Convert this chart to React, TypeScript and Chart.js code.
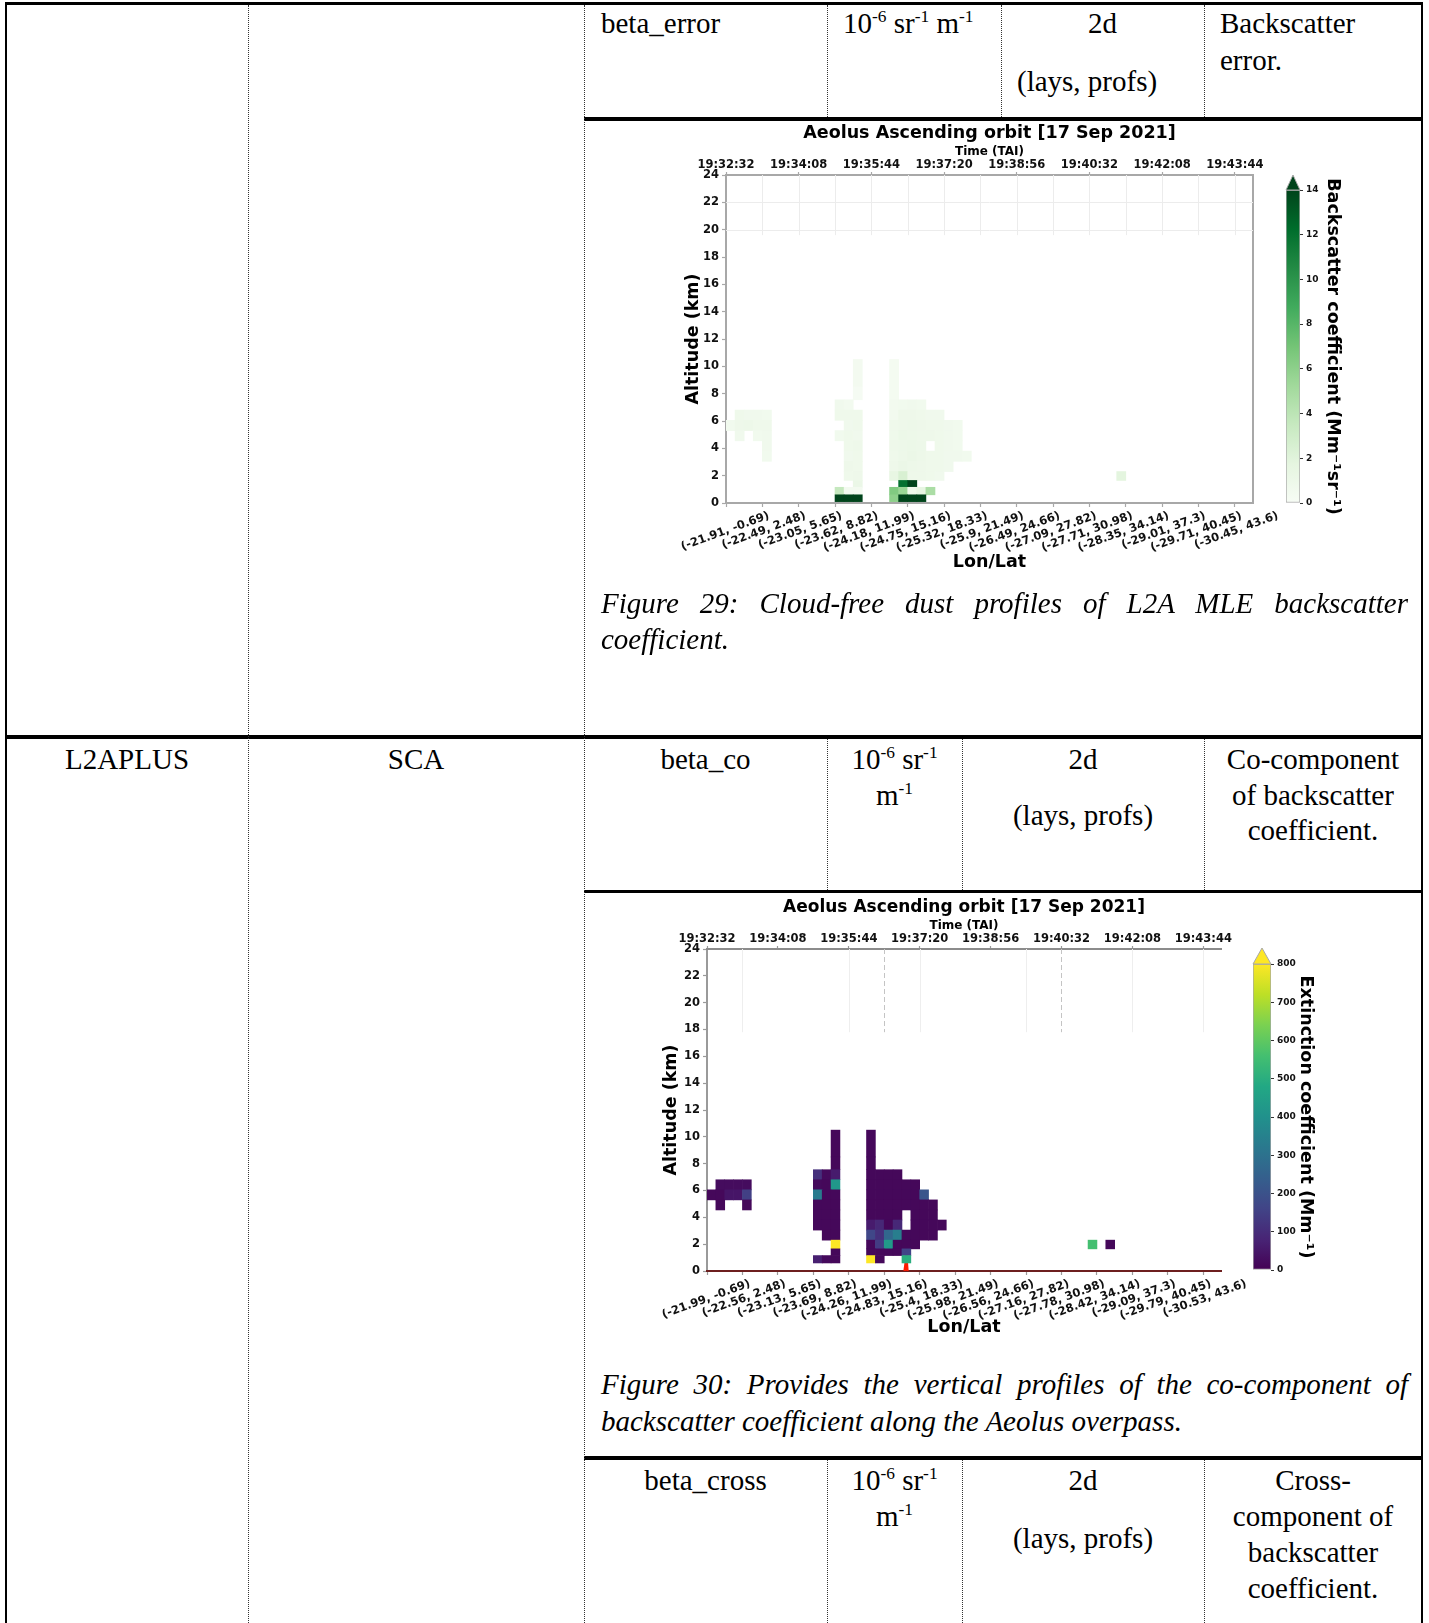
import { useEffect, useRef } from 'react';
import { Chart, registerables } from 'chart.js';

Chart.register(...registerables);

type Cell = number | null;
const _ = null;

// ---------------------------------------------------------------------------
// Shared profile / layer geometry of the Aeolus overpass
// ---------------------------------------------------------------------------
const LAYER_EDGES_KM = [0.1, 0.6, 1.15, 1.65, 2.3, 3.05, 3.8, 4.55, 5.3, 6.05, 6.8, 7.55, 8.5, 10.5];
const PROFILE_COUNT = 58;
const ALTITUDE_MAX_KM = 24;

const TIME_TICK_PROFILES = [0, 8, 16, 24, 32, 40, 48, 56];
const TIME_TICK_LABELS = ['19:32:32', '19:34:08', '19:35:44', '19:37:20', '19:38:56', '19:40:32', '19:42:08', '19:43:44'];

const LONLAT_TICK_PROFILES = [0, 4, 8, 12, 16, 20, 24, 28, 32, 36, 40, 44, 48, 52, 56];
const L2A_LONLAT_LABELS = [
  '(-21.91, -0.69)', '(-22.49, 2.48)', '(-23.05, 5.65)', '(-23.62, 8.82)', '(-24.18, 11.99)',
  '(-24.75, 15.16)', '(-25.32, 18.33)', '(-25.9, 21.49)', '(-26.49, 24.66)', '(-27.09, 27.82)',
  '(-27.71, 30.98)', '(-28.35, 34.14)', '(-29.01, 37.3)', '(-29.71, 40.45)', '(-30.45, 43.6)',
];
const L2APLUS_LONLAT_LABELS = [
  '(-21.99, -0.69)', '(-22.56, 2.48)', '(-23.13, 5.65)', '(-23.69, 8.82)', '(-24.26, 11.99)',
  '(-24.83, 15.16)', '(-25.4, 18.33)', '(-25.98, 21.49)', '(-26.56, 24.66)', '(-27.16, 27.82)',
  '(-27.78, 30.98)', '(-28.42, 34.14)', '(-29.09, 37.3)', '(-29.79, 40.45)', '(-30.53, 43.6)',
];

// ---------------------------------------------------------------------------
// L2A MLE backscatter (Mm-1 sr-1); one column per profile, bottom layer first
// ---------------------------------------------------------------------------
const BETA_PROFILES = [0, 1, 2, 3, 4, 12, 13, 14, 18, 19, 20, 21, 22, 23, 24, 25, 26, 43];
const BETA_COLUMNS: Cell[][] = [
  [_, _, _, _, _, _, _, _, 0.6, _, _, _, _],
  [_, _, _, _, _, _, _, 0.7, 0.9, 0.8, _, _, _],
  [_, _, _, _, _, _, _, _, 1.0, 0.7, _, _, _],
  [_, _, _, _, _, _, _, 0.6, 0.8, 0.7, _, _, _],
  [_, _, _, _, _, 0.6, 0.7, 0.7, 0.8, 0.6, _, _, _],
  [15, 3.6, _, _, _, _, _, 0.6, _, 0.8, 0.7, _, _],
  [15, 0.4, _, 0.8, 0.9, 0.7, 0.8, 0.8, 0.7, 0.8, 0.5, _, _],
  [15, 0.4, 1.2, 0.9, 0.8, 0.8, 0.9, 0.7, 0.8, 0.8, _, 0.2, 0.4],
  [6, 6.5, _, 1.5, 0.9, 0.8, 0.9, 0.8, 0.8, 0.5, 0.5, 0.3, 0.3],
  [15, 5.5, 12, 2.5, 1.2, 1.0, 1.0, 1.1, 0.9, 0.9, 0.6, _, _],
  [15, 0.8, 15, 0.9, 1.0, 1.2, 1.1, 1.0, 1.0, 0.9, 0.7, _, _],
  [15, 1.5, _, 0.9, 0.9, 1.0, 1.0, 0.9, 0.9, 0.8, 0.6, _, _],
  [_, 4.8, _, 0.8, 0.8, 0.8, _, 0.9, 0.8, 0.7, _, _, _],
  [_, _, _, 0.7, 0.8, 0.8, 0.8, 0.8, 0.8, 0.7, _, _, _],
  [_, _, _, _, 0.7, 0.7, 0.7, 0.7, 0.7, _, _, _, _],
  [_, _, _, _, _, 0.7, 0.6, 0.6, 0.6, _, _, _, _],
  [_, _, _, _, _, 0.6, _, _, _, _, _, _, _],
  [_, _, _, 1.8, _, _, _, _, _, _, _, _, _],
];
const BETA_RANGE = [0, 14];
const BETA_STEP = 2;

// ---------------------------------------------------------------------------
// L2A+ SCA extinction (Mm-1); one column per profile, bottom layer first
// ---------------------------------------------------------------------------
const EXT_PROFILES = [0, 1, 2, 3, 4, 12, 13, 14, 18, 19, 20, 21, 22, 23, 24, 25, 26, 43, 45];
const EXT_COLUMNS: Cell[][] = [
  [_, _, _, _, _, _, _, _, 15, _, _, _, _],
  [_, _, _, _, _, _, _, 15, 15, 25, _, _, _],
  [_, _, _, _, _, _, _, _, 45, 25, _, _, _],
  [_, _, _, _, _, _, _, _, 45, 25, _, _, _],
  [_, _, _, _, _, _, _, 15, 150, 25, _, _, _],
  [_, 70, _, _, _, 15, 15, 15, 330, 20, 110, _, _],
  [_, 20, _, _, 15, 15, 15, 15, 15, 15, 20, _, _],
  [_, 15, 15, 800, 15, 15, 15, 15, 15, 420, 60, 15, 15],
  [_, 820, 15, 15, 170, 60, 15, 15, 15, 15, 15, 15, 15],
  [_, 15, 15, 140, 110, 90, 15, 15, 15, 15, 15, _, _],
  [_, _, 15, 430, 270, 15, 15, 15, 15, 15, 15, _, _],
  [_, _, 15, 15, 340, 90, 15, 15, 15, 15, 15, _, _],
  [_, 500, 160, 15, 15, _, _, 15, 15, 15, _, _, _],
  [_, _, _, 15, 15, 15, 15, 15, 15, 15, _, _, _],
  [_, _, _, _, 15, 15, 15, 15, 210, _, _, _, _],
  [_, _, _, _, 15, 15, 15, 15, _, _, _, _, _],
  [_, _, _, _, _, 15, _, _, _, _, _, _, _],
  [_, _, _, 560, _, _, _, _, _, _, _, _, _],
  [_, _, _, 15, _, _, _, _, _, _, _, _, _],
];
const EXT_RANGE = [0, 800];
const EXT_STEP = 100;
// surface marker (profile, km)
const GROUND_MARK = [
  { x: 22.3, y: 0 },
  { x: 22.5, y: 1.0 },
  { x: 22.62, y: 0 },
];

// ---------------------------------------------------------------------------
// Colour maps
// ---------------------------------------------------------------------------
const GREENS = ['#f7fcf5', '#e5f5e0', '#c7e9c0', '#a1d99b', '#74c476', '#41ab5d', '#238b45', '#006d2c', '#00441b'];
const VIRIDIS = ['#440154', '#482475', '#414487', '#355f8d', '#2a788e', '#21918c', '#22a884', '#44bf70', '#7ad151', '#bddf26', '#fde725'];

function hexToRgb(h: string) {
  const n = parseInt(h.slice(1), 16);
  return [(n >> 16) & 255, (n >> 8) & 255, n & 255];
}

function colorAt(palette: string[], t: number) {
  const c = Math.max(0, Math.min(1, t)) * (palette.length - 1);
  const i = Math.min(Math.floor(c), palette.length - 2);
  const f = c - i;
  const a = hexToRgb(palette[i]);
  const b = hexToRgb(palette[i + 1]);
  const m = a.map((v, k) => Math.round(v + (b[k] - v) * f));
  return `rgb(${m[0]}, ${m[1]}, ${m[2]})`;
}

const FONT = 'DejaVu Sans';
const tickFont = { family: FONT, size: 11.5, weight: 'bold' as const };
const labelFont = (size: number) => ({ family: FONT, size, weight: 'bold' as const });

// ---------------------------------------------------------------------------
// Chart.js plugins
// ---------------------------------------------------------------------------
const upperGridPlugin = {
  id: 'upperGrid',
  beforeDatasetsDraw(chart: any, _args: any, o: any) {
    const xs = chart.scales.xb;
    const ys = chart.scales.y;
    if (!xs || !ys || !o) return;
    const { ctx, chartArea } = chart;
    const yTop = ys.getPixelForValue(ALTITUDE_MAX_KM);
    const yFloor = ys.getPixelForValue(o.floor);
    ctx.save();
    ctx.lineWidth = 1;
    ctx.strokeStyle = o.color;
    ctx.beginPath();
    for (const v of o.vertical) {
      const px = Math.round(xs.getPixelForValue(v)) + 0.5;
      ctx.moveTo(px, yTop);
      ctx.lineTo(px, yFloor);
    }
    for (const h of o.horizontal) {
      const py = Math.round(ys.getPixelForValue(h)) + 0.5;
      ctx.moveTo(chartArea.left, py);
      ctx.lineTo(chartArea.right, py);
    }
    ctx.stroke();
    if (o.dashed && o.dashed.length) {
      ctx.setLineDash([5, 3]);
      ctx.strokeStyle = o.dashColor;
      ctx.beginPath();
      for (const v of o.dashed) {
        const px = Math.round(xs.getPixelForValue(v)) + 0.5;
        ctx.moveTo(px, yTop);
        ctx.lineTo(px, ys.getPixelForValue(o.dashFloor));
      }
      ctx.stroke();
    }
    ctx.restore();
  },
};

const colorbarArrowPlugin = {
  id: 'colorbarArrow',
  afterDatasetsDraw(chart: any, _args: any, o: any) {
    const ys = chart.scales.y;
    const { ctx, chartArea: a } = chart;
    const yTop = ys.getPixelForValue(ys.max);
    ctx.save();
    ctx.beginPath();
    ctx.moveTo(a.left, yTop);
    ctx.lineTo(a.right, yTop);
    ctx.lineTo((a.left + a.right) / 2, yTop - o.height);
    ctx.closePath();
    ctx.fillStyle = o.color;
    ctx.fill();
    ctx.strokeStyle = o.edge;
    ctx.lineWidth = 1;
    ctx.stroke();
    ctx.restore();
  },
};

// ---------------------------------------------------------------------------
// Config builders
// ---------------------------------------------------------------------------
function layerDatasets(profiles: number[], columns: Cell[][], palette: string[], vmax: number) {
  return LAYER_EDGES_KM.slice(0, -1).map((lo, li) => {
    const hi = LAYER_EDGES_KM[li + 1];
    const data: any[] = new Array(PROFILE_COUNT).fill(null);
    const colors: string[] = new Array(PROFILE_COUNT).fill('rgba(0,0,0,0)');
    profiles.forEach((p, k) => {
      const v = columns[k][li];
      if (v !== null && v !== undefined) {
        data[p] = [lo, hi];
        colors[p] = colorAt(palette, v / vmax);
      }
    });
    return {
      type: 'bar',
      xAxisID: 'x',
      yAxisID: 'y',
      data,
      backgroundColor: colors,
      borderWidth: 0,
      barPercentage: 1,
      categoryPercentage: 1,
      grouped: false,
    };
  });
}

function heatmapConfig(s: any) {
  const datasets: any[] = layerDatasets(s.profiles, s.columns, s.palette, s.vmax);
  if (s.groundMark) {
    datasets.push({
      type: 'line',
      xAxisID: 'xb',
      yAxisID: 'y',
      data: s.groundMark,
      borderColor: '#ff1a00',
      borderWidth: 2.5,
      pointRadius: 0,
      fill: false,
      tension: 0,
    });
  }
  return {
    type: 'bar',
    data: {
      labels: Array.from({ length: PROFILE_COUNT }, (_v, i) => String(i)),
      datasets,
    },
    plugins: [upperGridPlugin],
    options: {
      responsive: false,
      animation: false,
      devicePixelRatio: 1,
      events: [],
      layout: { padding: s.padding, autoPadding: false },
      plugins: {
        legend: { display: false },
        tooltip: { enabled: false },
        title: {
          display: true,
          text: 'Aeolus Ascending orbit [17 Sep 2021]',
          fullSize: false,
          color: '#000',
          font: labelFont(s.titleSize),
          padding: { top: s.titlePadTop, bottom: 0 },
        },
        upperGrid: s.grid,
      },
      scales: {
        x: { type: 'category', display: false, offset: true, grid: { display: false } },
        y: {
          type: 'linear',
          position: 'left',
          min: 0,
          max: ALTITUDE_MAX_KM,
          afterFit: (sc: any) => {
            sc.width = s.yWidth;
            sc.paddingTop = 0;
            sc.paddingBottom = 0;
          },
          ticks: { stepSize: 2, color: '#111', font: tickFont, padding: 3 },
          grid: { drawOnChartArea: false, tickLength: 4, color: s.spine, tickWidth: 1.2 },
          border: { color: s.spine, width: 2 },
          title: { display: true, text: 'Altitude (km)', color: '#000', font: labelFont(17.5), padding: { top: s.yTitlePad, bottom: 0 } },
        },
        yr: {
          type: 'linear',
          position: 'right',
          min: 0,
          max: ALTITUDE_MAX_KM,
          display: s.rightSpine,
          afterFit: (sc: any) => {
            sc.width = 0;
          },
          ticks: { display: false },
          grid: { drawOnChartArea: false, drawTicks: false },
          border: { color: s.spine, width: 2 },
        },
        xb: {
          type: 'linear',
          position: 'bottom',
          offset: false,
          min: 0,
          max: PROFILE_COUNT,
          afterBuildTicks: (sc: any) => {
            sc.ticks = LONLAT_TICK_PROFILES.map((v) => ({ value: v }));
          },
          afterFit: (sc: any) => {
            sc.height = s.xbHeight;
            sc.paddingLeft = 0;
            sc.paddingRight = 0;
          },
          ticks: {
            autoSkip: false,
            minRotation: 20,
            maxRotation: 20,
            labelOffset: 43,
            padding: 2,
            color: '#111',
            font: tickFont,
            callback: (_v: any, i: number) => s.lonlat[i],
          },
          grid: { offset: false, drawOnChartArea: false, tickLength: 4, color: s.spine, tickWidth: 1.2 },
          border: { color: s.bottomSpine, width: 2 },
          title: { display: true, text: 'Lon/Lat', color: '#000', font: labelFont(17.5), padding: { top: 0, bottom: 2.5 } },
        },
        xt: {
          type: 'linear',
          position: 'top',
          offset: false,
          min: 0,
          max: PROFILE_COUNT,
          afterBuildTicks: (sc: any) => {
            sc.ticks = TIME_TICK_PROFILES.map((v) => ({ value: v }));
          },
          afterFit: (sc: any) => {
            sc.height = s.xtHeight;
            sc.paddingLeft = 0;
            sc.paddingRight = 0;
          },
          ticks: {
            autoSkip: false,
            maxRotation: 0,
            minRotation: 0,
            padding: 0,
            color: '#111',
            font: tickFont,
            callback: (_v: any, i: number) => TIME_TICK_LABELS[i],
          },
          grid: { offset: false, drawOnChartArea: false, tickLength: 3, color: s.spine, tickWidth: 1.2 },
          border: { color: s.topSpine, width: 2 },
          title: { display: true, text: 'Time (TAI)', color: '#000', font: labelFont(12), padding: { top: 1.2, bottom: 0 } },
        },
      },
    },
  };
}

function colorbarConfig(s: any) {
  const palette: string[] = s.palette;
  return {
    type: 'bar',
    data: {
      labels: [''],
      datasets: [
        {
          data: [[s.range[0], s.range[1]]],
          backgroundColor: (c: any) => {
            const a = c.chart.chartArea;
            if (!a) return palette[0];
            const g = c.chart.ctx.createLinearGradient(0, a.bottom, 0, a.top);
            palette.forEach((col, i) => g.addColorStop(i / (palette.length - 1), col));
            return g;
          },
          borderColor: '#a8a8a8',
          borderWidth: 1,
          borderSkipped: false,
          barPercentage: 1,
          categoryPercentage: 1,
        },
      ],
    },
    plugins: [colorbarArrowPlugin],
    options: {
      responsive: false,
      animation: false,
      devicePixelRatio: 1,
      events: [],
      layout: { padding: s.padding, autoPadding: false },
      plugins: {
        legend: { display: false },
        tooltip: { enabled: false },
        colorbarArrow: { color: palette[palette.length - 1], edge: '#a8a8a8', height: s.arrow },
      },
      scales: {
        x: { type: 'category', display: false, offset: true, grid: { display: false } },
        y: {
          type: 'linear',
          position: 'right',
          min: s.range[0],
          max: s.range[1],
          afterFit: (sc: any) => {
            sc.width = s.yWidth;
          },
          ticks: { stepSize: s.step, color: '#111', font: { family: FONT, size: 9, weight: 'bold' }, padding: 3 },
          grid: { drawOnChartArea: false, tickLength: 3, color: '#333' },
          border: { display: false },
          title: { display: true, text: s.label, color: '#000', font: labelFont(17.5), padding: { top: 0, bottom: 0 } },
        },
      },
    },
  };
}

// ---------------------------------------------------------------------------
// Components
// ---------------------------------------------------------------------------
function ChartBox({ left, top, width, height, make }: any) {
  const ref = useRef<HTMLCanvasElement>(null);
  useEffect(() => {
    const chart = new Chart(ref.current as HTMLCanvasElement, make());
    return () => chart.destroy();
  }, []);
  return (
    <canvas
      ref={ref}
      width={width}
      height={height}
      style={{ position: 'absolute', left, top, width, height, display: 'block' }}
    />
  );
}

const SERIF = '"Liberation Serif", "Times New Roman", serif';
const LINE_H = 36;

function Txt({ x, w, cy, align = 'left', italic = false, justify = false, children }: any) {
  return (
    <div
      style={{
        position: 'absolute',
        left: x,
        width: w,
        top: cy - LINE_H / 2,
        height: LINE_H,
        lineHeight: `${LINE_H}px`,
        fontSize: 29,
        fontFamily: SERIF,
        fontStyle: italic ? 'italic' : 'normal',
        textAlign: justify ? 'justify' : align,
        textAlignLast: justify ? 'justify' : undefined,
        whiteSpace: justify ? 'normal' : 'nowrap',
        color: '#000',
      } as any}
    >
      {children}
    </div>
  );
}

function Sup({ children }: any) {
  return <sup style={{ fontSize: '0.6em', verticalAlign: '0.62em', lineHeight: 0 }}>{children}</sup>;
}

function HLine({ x1, x2, y, t }: any) {
  return <div style={{ position: 'absolute', left: x1, top: y - t / 2, width: x2 - x1, height: t, background: '#000' }} />;
}

function VLine({ x, y1, y2, solid = false }: any) {
  return (
    <div
      style={{
        position: 'absolute',
        left: x,
        top: y1,
        width: 0,
        height: y2 - y1,
        borderLeft: solid ? '2px solid #000' : '1px dotted #333',
      }}
    />
  );
}

const UNIT = (
  <>
    10<Sup>-6</Sup> sr<Sup>-1</Sup>
  </>
);

export default function App() {
  return (
    <div style={{ position: 'absolute', left: 0, top: 0, width: 1429, height: 1623, background: '#fff', overflow: 'hidden' }}>
      {/* table rules */}
      <HLine x1={5} x2={1423} y={3.5} t={3} />
      <HLine x1={584} x2={1423} y={119} t={3.5} />
      <HLine x1={5} x2={1423} y={736.5} t={4} />
      <HLine x1={584} x2={1423} y={891.5} t={3.5} />
      <HLine x1={584} x2={1423} y={1458} t={3.5} />
      <VLine x={5} y1={2} y2={1623} solid />
      <VLine x={1421} y1={2} y2={1623} solid />
      <VLine x={248} y1={5} y2={1623} />
      <VLine x={584} y1={5} y2={1623} />
      <VLine x={827} y1={5} y2={117} />
      <VLine x={1001} y1={5} y2={117} />
      <VLine x={1204} y1={5} y2={117} />
      <VLine x={827} y1={739} y2={890} />
      <VLine x={962} y1={739} y2={890} />
      <VLine x={1204} y1={739} y2={890} />
      <VLine x={827} y1={1460} y2={1623} />
      <VLine x={962} y1={1460} y2={1623} />
      <VLine x={1204} y1={1460} y2={1623} />

      {/* beta_error row */}
      <Txt x={601} w={220} cy={23}>beta_error</Txt>
      <Txt x={843} w={160} cy={23}>
        {UNIT} m<Sup>-1</Sup>
      </Txt>
      <Txt x={1001} w={203} cy={23} align="center">2d</Txt>
      <Txt x={1017} w={187} cy={81}>(lays, profs)</Txt>
      <Txt x={1220} w={200} cy={23}>Backscatter</Txt>
      <Txt x={1220} w={200} cy={60}>error.</Txt>

      {/* Figure 29 */}
      <ChartBox
        left={616}
        top={118}
        width={760}
        height={470}
        make={() =>
          heatmapConfig({
            profiles: BETA_PROFILES,
            columns: BETA_COLUMNS,
            palette: GREENS,
            vmax: BETA_RANGE[1],
            lonlat: L2A_LONLAT_LABELS,
            padding: { left: 34, right: 123, top: 0, bottom: 13 },
            titleSize: 17.5,
            titlePadTop: 4.5,
            xtHeight: 31.5,
            yWidth: 76,
            yTitlePad: 33,
            xbHeight: 72,
            spine: '#a8a8a8',
            topSpine: '#a8a8a8',
            bottomSpine: '#a8a8a8',
            rightSpine: true,
            grid: { vertical: LONLAT_TICK_PROFILES.slice(1), horizontal: [20, 22], floor: 19.6, color: '#ececec', dashed: [] },
          })
        }
      />
      <ChartBox
        left={1266}
        top={160}
        width={100}
        height={380}
        make={() =>
          colorbarConfig({
            palette: GREENS,
            range: BETA_RANGE,
            step: BETA_STEP,
            label: 'Backscatter coefficient (Mm\u207B\u00B9sr\u207B\u00B9)',
            padding: { left: 20, top: 30, right: 22.5, bottom: 37 },
            yWidth: 43.5,
            arrow: 15,
          })
        }
      />
      <Txt x={601} w={807} cy={603} italic justify>
        Figure 29: Cloud-free dust profiles of L2A MLE backscatter
      </Txt>
      <Txt x={601} w={807} cy={638.5} italic>
        coefficient.
      </Txt>

      {/* L2APLUS / SCA / beta_co row */}
      <Txt x={6} w={242} cy={758.5} align="center">L2APLUS</Txt>
      <Txt x={248} w={336} cy={758.5} align="center">SCA</Txt>
      <Txt x={584} w={243} cy={758.5} align="center">beta_co</Txt>
      <Txt x={827} w={135} cy={758.5} align="center">{UNIT}</Txt>
      <Txt x={827} w={135} cy={794.7} align="center">
        m<Sup>-1</Sup>
      </Txt>
      <Txt x={962} w={242} cy={758.5} align="center">2d</Txt>
      <Txt x={962} w={242} cy={815.4} align="center">(lays, profs)</Txt>
      <Txt x={1204} w={218} cy={758.5} align="center">Co-component</Txt>
      <Txt x={1204} w={218} cy={794.7} align="center">of backscatter</Txt>
      <Txt x={1204} w={218} cy={830} align="center">coefficient.</Txt>

      {/* Figure 30 */}
      <ChartBox
        left={597}
        top={890}
        width={733}
        height={470}
        make={() =>
          heatmapConfig({
            profiles: EXT_PROFILES,
            columns: EXT_COLUMNS,
            palette: VIRIDIS,
            vmax: EXT_RANGE[1],
            lonlat: L2APLUS_LONLAT_LABELS,
            groundMark: GROUND_MARK,
            padding: { left: 33, right: 109, top: 0, bottom: 19.5 },
            titleSize: 17,
            titlePadTop: 7.5,
            xtHeight: 31.1,
            yWidth: 77,
            yTitlePad: 31,
            xbHeight: 69.5,
            spine: '#9a9a9a',
            topSpine: '#8c8c8c',
            bottomSpine: '#6d1f1f',
            rightSpine: false,
            grid: {
              vertical: [4, 16, 24, 36, 48, 56],
              horizontal: [],
              floor: 17.8,
              color: '#eeeeee',
              dashed: [20, 40],
              dashColor: '#c4c4c4',
              dashFloor: 17.8,
            },
          })
        }
      />
      <ChartBox
        left={1236}
        top={930}
        width={100}
        height={380}
        make={() =>
          colorbarConfig({
            palette: VIRIDIS,
            range: EXT_RANGE,
            step: EXT_STEP,
            label: 'Extinction coefficient (Mm\u207B\u00B9)',
            padding: { left: 17, top: 34, right: 19.5, bottom: 40 },
            yWidth: 45.5,
            arrow: 16,
          })
        }
      />
      <Txt x={601} w={807} cy={1383.5} italic justify>
        Figure 30: Provides the vertical profiles of the co-component of
      </Txt>
      <Txt x={601} w={807} cy={1420.8} italic>
        backscatter coefficient along the Aeolus overpass.
      </Txt>

      {/* beta_cross row */}
      <Txt x={584} w={243} cy={1480} align="center">beta_cross</Txt>
      <Txt x={827} w={135} cy={1480} align="center">{UNIT}</Txt>
      <Txt x={827} w={135} cy={1516} align="center">
        m<Sup>-1</Sup>
      </Txt>
      <Txt x={962} w={242} cy={1480} align="center">2d</Txt>
      <Txt x={962} w={242} cy={1538} align="center">(lays, profs)</Txt>
      <Txt x={1204} w={218} cy={1480} align="center">Cross-</Txt>
      <Txt x={1204} w={218} cy={1516} align="center">component of</Txt>
      <Txt x={1204} w={218} cy={1552} align="center">backscatter</Txt>
      <Txt x={1204} w={218} cy={1588} align="center">coefficient.</Txt>
    </div>
  );
}
